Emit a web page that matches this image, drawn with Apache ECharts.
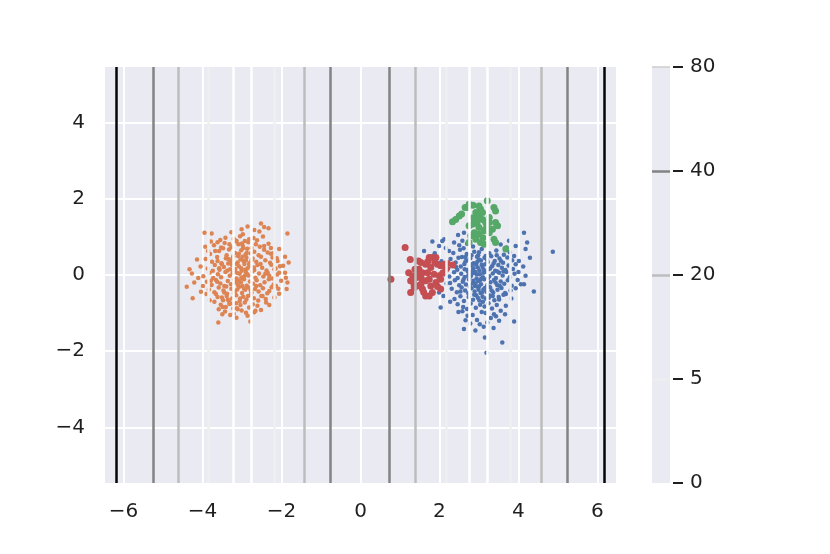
<!DOCTYPE html>
<html>
<head>
<meta charset="utf-8">
<script src="https://cdn.jsdelivr.net/npm/echarts@6/dist/echarts.min.js"></script>
<style>
html, body { margin: 0; padding: 0; background: #fff; }
#chart { width: 830px; height: 554px; }
</style>
</head>
<body>
<div id="chart"></div>
<script>
// cluster points
const orangePts = [
  [-3.95,1.11],[-3.77,1.09],[-3.42,0.98],[-3.01,1.2],[-2.86,1.27],[-2.52,1.35],[-2.44,1.26],[-2.33,1.23],[-2.56,1.14],[-1.85,1.09],
  [-3.93,0.74],[-4.33,0.15],[-4.27,0.04],[-4.4,-0.31],[-4.25,-0.61],[-4.21,-0.2],[-3.99,-0.29],[-4.04,-0.44],[-3.9,-0.5],[-3.7,-0.7],
  [-3.59,-0.9],[-3.6,-1.25],[-3.49,-0.84],[-3.3,-1.05],[-3.11,-0.9],[-2.9,-0.99],[-2.79,-1.22],[-2.66,-0.94],[-2.52,-0.92],[-2.39,-0.72],
  [-2.18,-0.59],[-2.06,-0.49],[-1.87,-0.37],[-1.85,-0.2],[-1.89,-0.07],[-1.91,0.06],[-1.96,0.24],[-1.82,0.33],[-1.91,0.48],[-2.06,0.68],
  [-2.27,0.56],[-2.1,0.37],[-2.01,-0.15],[-2.14,-0.29],[-2.31,-0.42],[-2.48,-0.55],[-3.45,-0.46],[-3.36,-0.64],[-3.51,-0.59],[-3.66,-0.5],
  [-3.79,-0.15],[-3.74,0.11],[-3.62,0.37],[-3.68,0.63],[-3.53,0.72],[-3.32,0.81],[-3.14,0.9],[-2.98,1.07],[-2.82,0.94],[-2.65,0.81],
  [-2.44,0.76],[-2.35,0.59],[-2.23,0.46],[-2.18,0.15],[-2.31,-0.02],[-2.06,0.06],
  [-3.55,0.92],[-3.21,0.95],[-2.93,0.89],[-2.71,0.97],[-3.05,1.02],[-2.62,0.91],
  [-3.71,0.78],[-3.44,0.84],[-3.27,0.73],[-3.09,0.81],[-2.98,0.76],[-2.84,0.86],[-2.55,0.74],[-2.33,0.82],[-3.62,0.86],[-3.15,0.88],[-2.76,0.71],
  [-3.81,0.55],[-3.58,0.63],[-3.39,0.52],[-3.33,0.67],[-3.18,0.58],[-3.02,0.65],[-2.91,0.54],[-2.87,0.69],[-2.69,0.61],[-2.58,0.52],[-2.44,0.66],[-2.21,0.57],[-3.48,0.7],[-3.1,0.5],[-2.78,0.57],
  [-3.92,0.42],[-3.76,0.35],[-3.63,0.47],[-3.52,0.31],[-3.41,0.44],[-3.29,0.36],[-3.22,0.49],[-3.11,0.33],[-3.04,0.41],[-2.96,0.37],[-2.89,0.46],[-2.81,0.31],[-2.73,0.43],[-2.64,0.35],[-2.52,0.48],[-2.41,0.39],[-2.29,0.32],[-2.12,0.44],[-3.35,0.3],[-2.99,0.48],
  [-4.05,0.22],[-3.87,0.17],[-3.69,0.26],[-3.57,0.14],[-3.46,0.21],[-3.37,0.12],[-3.26,0.27],[-3.17,0.16],[-3.08,0.23],[-3.01,0.11],[-2.94,0.29],[-2.86,0.18],[-2.79,0.24],[-2.69,0.13],[-2.61,0.26],[-2.49,0.19],[-2.38,0.12],[-2.26,0.27],[-2.15,0.17],[-2.04,0.23],[-3.13,0.29],[-2.92,0.14],[-3.51,0.28],
  [-3.98,-0.03],[-3.82,0.06],[-3.73,-0.08],[-3.61,0.02],[-3.53,-0.06],[-3.42,0.08],[-3.31,-0.02],[-3.24,0.05],[-3.14,-0.09],[-3.06,0.03],[-2.97,-0.05],[-2.9,0.07],[-2.83,-0.01],[-2.74,0.09],[-2.66,-0.07],[-2.57,0.04],[-2.46,-0.04],[-2.35,0.06],[-2.23,-0.09],[-2.11,0.01],[-3.19,0.09],[-3.02,-0.08],[-2.87,0.02],
  [-3.89,-0.18],[-3.77,-0.26],[-3.66,-0.13],[-3.55,-0.22],[-3.45,-0.29],[-3.36,-0.16],[-3.28,-0.24],[-3.2,-0.12],[-3.1,-0.27],[-3.03,-0.19],[-2.95,-0.11],[-2.88,-0.28],[-2.8,-0.17],[-2.72,-0.23],[-2.63,-0.14],[-2.54,-0.27],[-2.43,-0.19],[-2.32,-0.11],[-2.2,-0.25],[-3.16,-0.2],[-2.99,-0.29],
  [-3.84,-0.38],[-3.7,-0.45],[-3.59,-0.33],[-3.47,-0.41],[-3.38,-0.49],[-3.27,-0.36],[-3.18,-0.44],[-3.07,-0.31],[-3.0,-0.47],[-2.92,-0.39],[-2.84,-0.33],[-2.76,-0.46],[-2.67,-0.37],[-2.58,-0.43],[-2.47,-0.35],[-2.36,-0.48],[-2.25,-0.32],[-3.12,-0.38],
  [-3.62,-0.58],[-3.48,-0.66],[-3.39,-0.55],[-3.25,-0.62],[-3.15,-0.53],[-3.06,-0.68],[-2.97,-0.57],[-2.89,-0.64],[-2.78,-0.52],[-2.7,-0.61],[-2.59,-0.67],[-2.51,-0.55],[-2.4,-0.63],[-3.33,-0.69],
  [-3.54,-0.78],[-3.41,-0.84],[-3.23,-0.75],[-3.13,-0.87],[-3.04,-0.79],[-2.93,-0.72],[-2.82,-0.85],[-2.73,-0.77],[-2.61,-0.81],[-3.32,-0.76],
  [-3.43,-0.96],[-3.21,-1.02],[-3.01,-0.93],[-2.86,-1.07],[-2.69,-0.98],[-3.14,-1.12],
  [-3.02,0.18],[-2.95,-0.36],[-3.08,0.56],[-2.85,-0.55],[-3.12,0.05],[-2.9,0.38],[-3.05,-0.62],[-2.97,0.71],[-3.2,-0.48],[-2.82,0.27],
  [-3.1,-0.15],[-2.93,-0.02],[-3.25,0.42],[-2.78,-0.4],[-3.0,0.83],[-2.88,0.58],[-3.15,-0.74],[-3.3,0.15],[-2.7,0.2],[-3.4,-0.3],
  [-4.14,0.41],[-3.86,0.63],[-3.79,0.88],[-2.47,1.01],[-2.27,0.71],[-2.08,-0.36],[-2.31,-0.79],[-3.82,-0.66],[-4.11,-0.08],[-3.5,-1.03],
  [-3.27,1.12],[-2.69,1.18],[-3.63,-0.18],[-2.41,0.03],[-3.35,0.42],[-2.64,-0.29],[-3.58,0.18],[-2.53,0.29],[-3.22,-0.88],[-2.76,0.39]
];

const bluePts = [
  [2.47,1.05],[2.62,1.11],[1.82,0.88],[1.99,0.76],[1.61,0.63],[2.12,0.94],[4.14,1.11],[4.22,0.85],[4.18,0.68],[3.93,0.76],
  [4.87,0.61],[3.89,0.5],[4.01,0.37],[3.93,0.28],[4.18,-0.02],[4.06,-0.24],[4.14,-0.24],[4.39,-0.43],[3.93,-0.35],[3.68,-0.5],
  [3.51,-0.64],[3.68,-0.81],[3.38,-1.03],[3.55,-0.94],[3.66,-1.03],[3.51,-1.2],[3.89,-1.22],[3.59,-1.77],[2.62,-1.42],[3.02,-1.29],
  [3.21,-1.25],[3.17,-1.0],[2.71,-1.07],[2.48,-0.97],[2.03,-0.85],[2.27,-0.7],[3.15,-1.64],[3.19,-2.04],[1.99,-0.46],[1.95,-0.29],
  [2.12,0.02],[2.24,0.63],[2.37,0.85],[2.07,0.89],
  [2.35,0.58],[2.52,0.66],[2.69,0.55],[2.88,0.61],[3.07,0.68],[3.26,0.57],[3.44,0.64],[3.63,0.53],[3.78,0.6],[2.61,0.7],[2.98,0.52],
  [2.28,0.42],[2.41,0.33],[2.57,0.47],[2.66,0.36],[2.78,0.44],[2.87,0.31],[2.95,0.48],[3.05,0.38],[3.14,0.45],[3.22,0.34],[3.31,0.49],[3.4,0.37],[3.52,0.43],[3.61,0.32],[3.72,0.46],[3.84,0.39],[2.48,0.45],[3.0,0.41],
  [2.22,0.17],[2.33,0.26],[2.45,0.14],[2.54,0.22],[2.63,0.29],[2.71,0.13],[2.79,0.24],[2.86,0.18],[2.93,0.27],[3.01,0.12],[3.09,0.21],[3.16,0.28],[3.24,0.15],[3.33,0.23],[3.41,0.11],[3.49,0.26],[3.58,0.19],[3.67,0.13],[3.75,0.25],[3.86,0.16],[2.83,0.29],[3.12,0.14],[2.97,0.2],
  [2.25,-0.04],[2.37,0.07],[2.46,-0.08],[2.55,0.03],[2.64,-0.05],[2.72,0.09],[2.8,-0.02],[2.87,0.05],[2.94,-0.09],[3.02,0.02],[3.1,-0.06],[3.18,0.08],[3.26,-0.03],[3.35,0.04],[3.43,-0.08],[3.51,0.06],[3.6,-0.01],[3.69,0.08],[3.78,-0.06],[3.9,0.03],[2.91,0.08],[3.06,-0.1],[2.76,-0.07],
  [2.27,-0.21],[2.39,-0.14],[2.5,-0.27],[2.59,-0.18],[2.67,-0.25],[2.75,-0.12],[2.83,-0.22],[2.9,-0.29],[2.98,-0.16],[3.05,-0.24],[3.13,-0.11],[3.21,-0.27],[3.29,-0.19],[3.38,-0.13],[3.46,-0.26],[3.55,-0.17],[3.64,-0.23],[3.73,-0.14],[3.83,-0.28],[3.0,-0.3],[2.86,-0.15],
  [2.31,-0.36],[2.44,-0.45],[2.56,-0.33],[2.65,-0.41],[2.73,-0.48],[2.81,-0.35],[2.89,-0.43],[2.96,-0.31],[3.04,-0.47],[3.11,-0.38],[3.19,-0.44],[3.28,-0.32],[3.36,-0.46],[3.47,-0.39],[3.57,-0.34],[3.66,-0.47],[3.8,-0.41],[2.99,-0.39],
  [2.38,-0.63],[2.53,-0.56],[2.62,-0.68],[2.74,-0.58],[2.85,-0.65],[2.93,-0.53],[3.01,-0.67],[3.09,-0.57],[3.17,-0.62],[3.27,-0.54],[3.39,-0.66],[3.5,-0.58],[3.62,-0.52],[2.97,-0.6],
  [2.46,-0.77],[2.6,-0.84],[2.79,-0.75],[2.92,-0.86],[3.03,-0.78],[3.14,-0.83],[3.24,-0.74],[3.33,-0.88],[3.45,-0.79],[2.7,-0.89],
  [2.58,-0.95],[2.84,-1.05],[3.07,-0.97],[3.3,-1.13],[2.95,-1.18],[3.12,-1.36],[2.78,-1.27],[3.43,-1.08],
  [2.5,0.78],[2.7,0.82],[2.58,0.9],[2.85,0.75],[3.7,0.72],[3.55,0.8],
  [2.42,0.21],[2.61,-0.12],[2.69,0.38],[2.77,-0.31],[2.84,0.12],[2.91,-0.22],[2.96,0.35],[3.03,-0.13],[3.07,0.27],[3.11,0.06],
  [3.15,-0.34],[3.2,0.41],[3.23,-0.08],[3.28,0.17],[3.32,-0.41],[3.37,0.3],[3.42,-0.2],[3.47,0.09],[3.53,-0.29],[3.56,0.36],
  [2.81,0.52],[2.88,-0.52],[3.0,0.6],[3.1,-0.7],[2.66,0.47],[2.73,-0.01],[3.17,0.5],[3.35,-0.55],[2.53,-0.43],[3.62,0.1],
  [2.94,0.02],[3.08,-0.46],[2.8,0.07],[3.25,-0.6],[2.64,0.15],[3.45,0.52],
  [1.88,0.57],[2.16,0.71],[2.05,0.36],[2.18,-0.22],[2.1,-0.55],[4.0,0.08],[4.12,0.22],[3.98,-0.13],[4.29,0.45],[3.82,-0.62],
  [3.76,0.9],[2.91,-1.46],[2.66,-1.19],[3.37,-1.39]
];

const redPts = [
  [0.77,-0.11],[1.13,0.72],[1.26,0.41],[1.47,0.37],[1.22,0.06],[1.27,-0.15],[1.27,-0.46],[1.36,-0.33],[1.48,0.15],[1.53,-0.07],
  [1.57,-0.37],[1.65,-0.55],[1.74,-0.55],[1.57,0.06],[1.7,0.06],[1.74,-0.11],[1.78,0.2],[1.82,0.46],[1.91,0.46],[1.95,0.28],
  [2.03,0.24],[1.99,-0.02],[2.03,-0.11],[2.03,-0.37],[2.16,0.15],[2.34,0.26],[1.4,-0.07],[1.44,-0.29],[1.53,-0.24],[1.65,-0.15],
  [1.78,-0.29],[1.86,0.02],[1.65,0.28],[1.53,0.33],[1.32,-0.02],[1.38,0.15],[1.74,0.46],[2.12,0.28],[1.91,-0.2],[1.82,-0.46],
  [1.6,-0.45],[1.45,0.05],[1.88,0.33],[2.08,0.05],[1.35,-0.22],[1.7,0.35],[1.95,-0.3],[2.2,0.3]
];

const greenPts = [
  [2.33,1.4],[2.41,1.46],[2.5,1.55],[2.56,1.6],[2.65,1.77],[2.75,1.86],[2.85,1.83],[3.0,1.81],[3.21,1.95],[3.38,1.77],
  [3.42,1.68],[2.92,1.64],[3.0,1.55],[2.96,1.46],[3.09,1.46],[3.17,1.38],[3.26,1.38],[3.42,1.38],[3.47,1.29],[3.34,1.2],
  [3.17,1.2],[3.0,1.25],[2.83,1.33],[2.75,1.29],[2.88,1.11],[2.79,1.03],[2.92,0.94],[3.0,1.07],[3.13,1.16],[3.26,1.11],
  [3.38,0.94],[3.42,0.85],[3.04,0.85],[3.13,0.81],[3.68,0.68],[2.75,0.85],[2.71,1.77],[3.04,1.73],[3.26,1.51],[3.09,1.64],
  [2.95,1.35],[3.2,1.3],[2.85,1.5],[3.1,0.98]
];

// vertical level lines and colorbar
const lineX = [-6.19, -5.26, -4.61, -3.85, -3.22, -2.77, -2.18, -1.42, -0.77, 0.73, 1.38, 2.16, 2.75, 3.20, 3.80, 4.58, 5.24, 6.16];
const lineLevel = [80, 40, 20, 5, 0, 0, 5, 20, 40, 40, 20, 5, 0, 0, 5, 20, 40, 80];
const cbLevels = ['0', '5', '20', '40', '80'];

const levelColor = { 0: '#ffffff', 5: '#efefef', 20: '#bdbdbd', 40: '#838383', 80: '#050505' };
const cbLineColor = { 5: '#eeeeee', 20: '#bdbdbd', 40: '#838383', 80: '#cccccc' };

const textColor = '#1f1f1f';
const font = 'DejaVu Sans';

function tickFmt(v) {
  if (Math.abs(v - Math.round(v)) > 1e-6) return '';
  return v < 0 ? '\u2212' + Math.abs(v) : String(v);
}

var myChart = echarts.init(document.getElementById('chart'));

var option = {
  animation: false,
  grid: [
    { left: 105, top: 67, width: 511, height: 416, show: true, backgroundColor: '#eaeaf2', borderWidth: 0 },
    { left: 652, top: 67, width: 18, height: 416, show: true, backgroundColor: '#eaeaf2', borderWidth: 0 }
  ],
  xAxis: [
    {
      type: 'value', gridIndex: 0, min: -6.47, max: 6.47, splitNumber: 6,
      axisLine: { show: false, onZero: false }, axisTick: { show: false },
      axisLabel: { formatter: tickFmt, color: textColor, fontSize: 20, fontFamily: font, margin: 19 },
      splitLine: { show: true, showMinLine: false, showMaxLine: false, lineStyle: { color: '#ffffff', width: 2 } }
    },
    {
      type: 'value', gridIndex: 1, min: 0, max: 1, show: false
    }
  ],
  yAxis: [
    {
      type: 'value', gridIndex: 0, min: -5.46, max: 5.46, splitNumber: 5,
      axisLine: { show: false, onZero: false }, axisTick: { show: false },
      axisLabel: { formatter: tickFmt, color: textColor, fontSize: 20, fontFamily: font, margin: 20 },
      splitLine: { show: true, showMinLine: false, showMaxLine: false, lineStyle: { color: '#ffffff', width: 2 } }
    },
    {
      // colorbar: levels evenly spaced, one step each
      type: 'value', gridIndex: 1, min: 0, max: cbLevels.length - 1, interval: 1,
      position: 'right', offset: 3,
      axisLine: { show: true, onZero: false, lineStyle: { color: 'rgba(0,0,0,0)' } },
      axisTick: { show: true, inside: false, length: 10, lineStyle: { color: textColor, width: 2 } },
      axisLabel: {
        color: textColor, fontSize: 20, fontFamily: font, margin: 17,
        formatter: function (v) { return cbLevels[Math.round(v)]; }
      },
      splitLine: { show: false }
    }
  ],
  series: [
    {
      type: 'scatter', name: 'blue', data: bluePts, symbolSize: 4.5, z: 2,
      itemStyle: { color: '#4c72b0', opacity: 1 }
    },
    {
      type: 'scatter', name: 'orange', data: orangePts, symbolSize: 4.5, z: 2,
      itemStyle: { color: '#dd8452', opacity: 1 }
    },
    {
      type: 'scatter', name: 'green', data: greenPts, symbolSize: 7, z: 3,
      itemStyle: { color: '#55a868', opacity: 1 }
    },
    {
      type: 'scatter', name: 'red', data: redPts, symbolSize: 7, z: 3,
      itemStyle: { color: '#c44e52', opacity: 1 }
    },
    {
      type: 'scatter', name: 'levels', data: [], z: 4,
      markLine: {
        silent: true, symbol: 'none', animation: false, z: 6,
        label: { show: false },
        data: lineX.map(function (x, i) {
          return { xAxis: x, lineStyle: { type: 'solid', width: 2.5, color: levelColor[lineLevel[i]] } };
        })
      }
    },
    {
      type: 'scatter', name: 'colorbar', data: [], xAxisIndex: 1, yAxisIndex: 1,
      markLine: {
        silent: true, symbol: 'none', animation: false,
        label: { show: false },
        data: cbLevels.slice(1).map(function (lv, i) {
          return { yAxis: i + 1, lineStyle: { type: 'solid', width: lv === '80' ? 1.5 : 2.5, color: cbLineColor[lv] } };
        })
      }
    }
  ]
};

myChart.setOption(option);
</script>
</body>
</html>
